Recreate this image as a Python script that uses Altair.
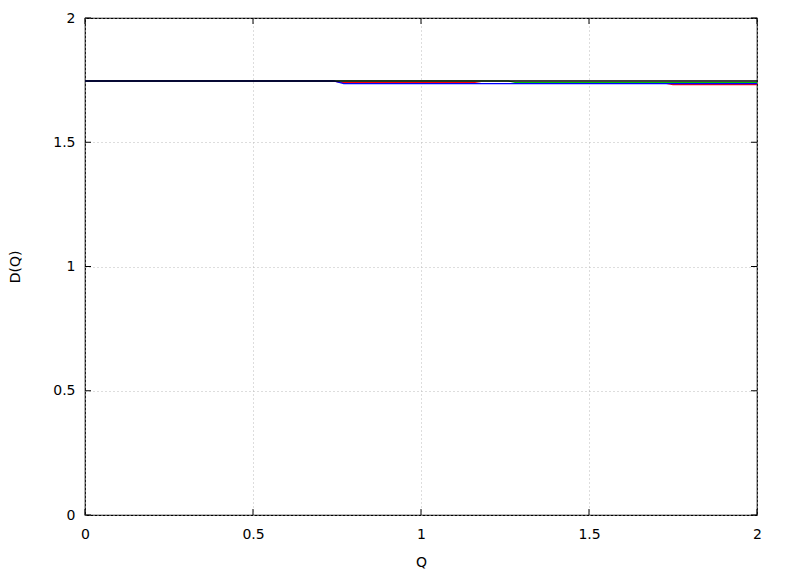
import altair as alt
import pandas as pd

# Series data (Q, D(Q))
red_q = [0.0, 0.74, 0.76, 1.16, 1.18, 1.73, 1.75, 2.0]
red_d = [1.7465, 1.7465, 1.7404, 1.7404, 1.7364, 1.7364, 1.7320, 1.7320]
green_q = [0.0, 1.26, 1.28, 2.0]
green_d = [1.7465, 1.7465, 1.7404, 1.7404]
blue_q = [0.0, 0.74, 0.77, 2.0]
blue_d = [1.7465, 1.7465, 1.7360, 1.7360]
black_q = [0.0, 1.0, 2.0]
black_d = [1.7465, 1.7465, 1.7465]

x_ticks = [0, 0.5, 1, 1.5, 2]
y_ticks = [0, 0.5, 1, 1.5, 2]

names = ["red", "green", "blue", "black"]
colors = ["#ff0000", "#00c000", "#0000ff", "#000000"]
widths = [1.2, 1.2, 1.3, 1.5]
qs = [red_q, green_q, blue_q, black_q]
ds = [red_d, green_d, blue_d, black_d]

rows = []
for i, (n, q, d) in enumerate(zip(names, qs, ds)):
    for j, (a, b) in enumerate(zip(q, d)):
        rows.append({"series": n, "order": i, "idx": j, "Q": a, "D": b})
df = pd.DataFrame(rows)

W, H = 672, 497
xs = alt.Scale(domain=[0, 2], nice=False, zero=False)
ys = alt.Scale(domain=[0, 2], nice=False, zero=False)

font = "DejaVu Sans"

x_axis = alt.Axis(values=x_ticks, grid=True, gridDash=[1, 3], gridColor="#bbbbbb",
                  gridWidth=1, ticks=False, domain=False, labelPadding=12,
                  labelFontSize=14, titleFontSize=14, labelFont=font, titleFont=font,
                  titleFontWeight="normal", titlePadding=14, labelColor="#000",
                  titleColor="#000", labelFlush=False, labelExpr="datum.value")
y_axis = alt.Axis(values=y_ticks, grid=True, gridDash=[1, 3], gridColor="#bbbbbb",
                  gridWidth=1, ticks=False, domain=False, labelPadding=10,
                  labelFontSize=14, titleFontSize=14, labelFont=font, titleFont=font,
                  titleFontWeight="normal", titlePadding=30, labelColor="#000",
                  titleColor="#000", labelFlush=False, labelExpr="datum.value")

lines = []
for n, c, w in zip(names, colors, widths):
    lines.append(
        alt.Chart(df[df.series == n]).mark_line(color=c, strokeWidth=w, interpolate="linear")
        .encode(x=alt.X("Q:Q", scale=xs, title="Q", axis=x_axis),
                y=alt.Y("D:Q", scale=ys, title="D(Q)", axis=y_axis),
                order="idx:O")
    )

xt = pd.DataFrame({"t": x_ticks})
yt = pd.DataFrame({"t": y_ticks})
X_t = alt.X("t:Q", scale=xs, title="Q", axis=x_axis)
Y_t = alt.Y("t:Q", scale=ys, title="D(Q)", axis=y_axis)
tick_bottom = alt.Chart(xt).mark_rule(color="black").encode(
    x=X_t, y=alt.value(H), y2=alt.value(H - 6))
tick_top = alt.Chart(xt).mark_rule(color="black").encode(
    x=X_t, y=alt.value(0), y2=alt.value(6))
tick_left = alt.Chart(yt).mark_rule(color="black").encode(
    y=Y_t, x=alt.value(0), x2=alt.value(6))
tick_right = alt.Chart(yt).mark_rule(color="black").encode(
    y=Y_t, x=alt.value(W), x2=alt.value(W - 6))

chart = alt.layer(*lines, tick_bottom, tick_top, tick_left, tick_right).properties(
    width=W, height=H,
    background="white",
    autosize=alt.AutoSizeParams(type="none"),
    padding={"left": 77, "top": 10, "right": 23, "bottom": 60},
).configure_view(stroke="black", strokeWidth=1.2)

chart.save("out.html", embed_options={"renderer": "svg", "actions": False})
